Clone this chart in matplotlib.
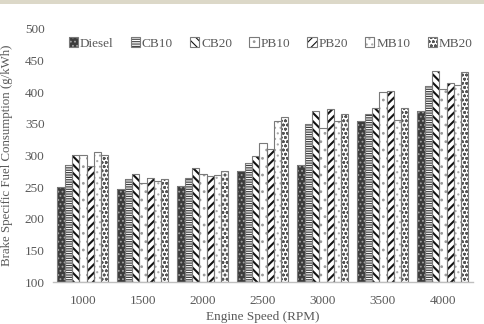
import matplotlib
matplotlib.use("Agg")
import matplotlib.pyplot as plt
import numpy as np
from matplotlib.patches import Rectangle

speeds = ["1000", "1500", "2000", "2500", "3000", "3500", "4000"]
series = ["Diesel", "CB10", "CB20", "PB10", "PB20", "MB10", "MB20"]
diesel = [250, 247, 251, 276, 285, 354, 370]
cb10 = [285, 262, 265, 288, 350, 366, 410]
cb20 = [300, 271, 280, 299, 370, 375, 433]
pb10 = [300, 256, 271, 320, 344, 400, 405]
pb20 = [283, 265, 268, 310, 374, 401, 415]
mb10 = [305, 259, 269, 355, 354, 356, 412]
mb20 = [300, 262, 276, 360, 365, 375, 432]
values = [diesel, cb10, cb20, pb10, pb20, mb10, mb20]

styles = [
    dict(face="#3c3c3c", hatch="....", hc="#a0a0a0", lw=0.8),
    dict(face="white", hatch="-------", hc="#404040", lw=0.9),
    dict(face="white", hatch="\\\\\\\\", hc="#111111", lw=1.5),
    dict(face="white", hatch="..", hc="#999999", lw=0.8),
    dict(face="white", hatch="////", hc="#111111", lw=1.5),
    dict(face="white", hatch="...", hc="#aaaaaa", lw=0.8),
    dict(face="white", hatch="oooo", hc="#555555", lw=0.8),
]

plt.rcParams['font.family'] = ['Liberation Serif', 'DejaVu Serif']
txt = "#595959"

fig = plt.figure(figsize=(4.85, 3.24), dpi=100)
fig.patches.append(Rectangle((0, 1 - 4 / 324), 1, 4 / 324, transform=fig.transFigure,
                             facecolor="#dcd8c8", edgecolor="none", zorder=0))
ax = fig.add_axes([0.109, 0.1296, 0.866, 0.7814])

x = np.arange(len(speeds))
n = len(series)
w = 0.85 / n
handles = []
for i, (name, vals, st) in enumerate(zip(series, values, styles)):
    plt.rcParams['hatch.linewidth'] = st["lw"]
    pos = x - 0.425 + w * (i + 0.5)
    h = np.array(vals) - 100
    bars = ax.bar(pos, h, w, bottom=100, color=st["face"], edgecolor=st["hc"],
                  hatch=st["hatch"], linewidth=0, label=name, zorder=2)
    outline = ax.bar(pos, h, w, bottom=100, fill=False, edgecolor="#7a7a7a",
                     linewidth=0.8, zorder=3)
    handles.append((bars, outline))

ax.set_ylim(100, 500)
ax.set_xlim(-0.5, len(speeds) - 0.5)
ax.set_yticks(np.arange(100, 501, 50))
ax.set_xticks(x)
ax.set_xticklabels(speeds)
for s in ["top", "right", "left"]:
    ax.spines[s].set_visible(False)
ax.spines["bottom"].set_color("#bfbfbf")
ax.spines["bottom"].set_linewidth(1.0)
ax.tick_params(axis="both", length=0, labelsize=9.5, colors=txt, pad=6)
ax.tick_params(axis="x", pad=9)
ax.set_xlabel("Engine Speed (RPM)", fontsize=9.5, color=txt, labelpad=3)
ax.set_ylabel("Brake Specific Fuel Consumption (g/kWh)", fontsize=9.3, color=txt, labelpad=8)

leg = fig.legend(handles=handles, labels=series, loc="center", bbox_to_anchor=(0.558, 0.866),
                 ncol=7, frameon=False, fontsize=9.5, handlelength=0.7, handleheight=0.7,
                 handletextpad=0.15, columnspacing=1.3, borderaxespad=0)
for t in leg.get_texts():
    t.set_color(txt)

fig.savefig("out.png", dpi=100)
